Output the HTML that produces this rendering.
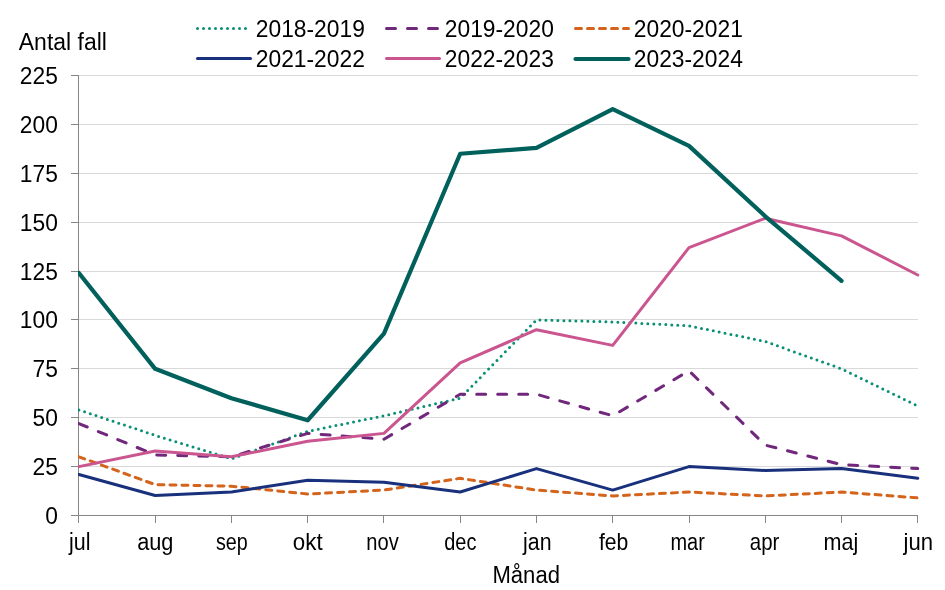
<!DOCTYPE html>
<html><head><meta charset="utf-8"><title>Chart</title>
<style>html,body{margin:0;padding:0;background:#fff;}svg{display:block;will-change:transform;}text{font-family:"Liberation Sans",sans-serif;font-size:23px;fill:#000;}</style></head><body>
<svg width="945" height="590" viewBox="0 0 945 590">
<rect width="945" height="590" fill="#fff"/>
<line x1="79" y1="466.5" x2="918" y2="466.5" stroke="#d9d9d9" stroke-width="1"/>
<line x1="79" y1="417.5" x2="918" y2="417.5" stroke="#d9d9d9" stroke-width="1"/>
<line x1="79" y1="368.5" x2="918" y2="368.5" stroke="#d9d9d9" stroke-width="1"/>
<line x1="79" y1="319.5" x2="918" y2="319.5" stroke="#d9d9d9" stroke-width="1"/>
<line x1="79" y1="271.5" x2="918" y2="271.5" stroke="#d9d9d9" stroke-width="1"/>
<line x1="79" y1="222.5" x2="918" y2="222.5" stroke="#d9d9d9" stroke-width="1"/>
<line x1="79" y1="173.5" x2="918" y2="173.5" stroke="#d9d9d9" stroke-width="1"/>
<line x1="79" y1="124.5" x2="918" y2="124.5" stroke="#d9d9d9" stroke-width="1"/>
<line x1="79" y1="75.5" x2="918" y2="75.5" stroke="#d9d9d9" stroke-width="1"/>
<line x1="78.5" y1="75" x2="78.5" y2="516" stroke="#868686" stroke-width="1"/>
<line x1="71" y1="515.5" x2="918" y2="515.5" stroke="#868686" stroke-width="1"/>
<line x1="71" y1="515.5" x2="79" y2="515.5" stroke="#868686" stroke-width="1"/>
<text transform="translate(57.90,523.80) scale(0.9920,1)" text-anchor="end">0</text>
<line x1="71" y1="466.5" x2="79" y2="466.5" stroke="#868686" stroke-width="1"/>
<text transform="translate(57.90,474.80) scale(0.9920,1)" text-anchor="end">25</text>
<line x1="71" y1="417.5" x2="79" y2="417.5" stroke="#868686" stroke-width="1"/>
<text transform="translate(57.90,425.80) scale(0.9920,1)" text-anchor="end">50</text>
<line x1="71" y1="368.5" x2="79" y2="368.5" stroke="#868686" stroke-width="1"/>
<text transform="translate(57.90,376.80) scale(0.9920,1)" text-anchor="end">75</text>
<line x1="71" y1="319.5" x2="79" y2="319.5" stroke="#868686" stroke-width="1"/>
<text transform="translate(57.90,327.80) scale(0.9920,1)" text-anchor="end">100</text>
<line x1="71" y1="271.5" x2="79" y2="271.5" stroke="#868686" stroke-width="1"/>
<text transform="translate(57.90,279.80) scale(0.9920,1)" text-anchor="end">125</text>
<line x1="71" y1="222.5" x2="79" y2="222.5" stroke="#868686" stroke-width="1"/>
<text transform="translate(57.90,230.80) scale(0.9920,1)" text-anchor="end">150</text>
<line x1="71" y1="173.5" x2="79" y2="173.5" stroke="#868686" stroke-width="1"/>
<text transform="translate(57.90,181.80) scale(0.9920,1)" text-anchor="end">175</text>
<line x1="71" y1="124.5" x2="79" y2="124.5" stroke="#868686" stroke-width="1"/>
<text transform="translate(57.90,132.80) scale(0.9920,1)" text-anchor="end">200</text>
<line x1="71" y1="75.5" x2="79" y2="75.5" stroke="#868686" stroke-width="1"/>
<text transform="translate(57.90,83.80) scale(0.9920,1)" text-anchor="end">225</text>
<line x1="78.5" y1="515" x2="78.5" y2="523" stroke="#868686" stroke-width="1"/>
<text transform="translate(79.80,549.60) scale(0.9334,1)" text-anchor="middle">jul</text>
<line x1="155.5" y1="515" x2="155.5" y2="523" stroke="#868686" stroke-width="1"/>
<text transform="translate(155.30,549.60) scale(0.9449,1)" text-anchor="middle">aug</text>
<line x1="231.5" y1="515" x2="231.5" y2="523" stroke="#868686" stroke-width="1"/>
<text transform="translate(231.90,549.60) scale(0.8572,1)" text-anchor="middle">sep</text>
<line x1="307.5" y1="515" x2="307.5" y2="523" stroke="#868686" stroke-width="1"/>
<text transform="translate(307.70,549.60) scale(0.9710,1)" text-anchor="middle">okt</text>
<line x1="383.5" y1="515" x2="383.5" y2="523" stroke="#868686" stroke-width="1"/>
<text transform="translate(382.50,549.60) scale(0.8736,1)" text-anchor="middle">nov</text>
<line x1="460.5" y1="515" x2="460.5" y2="523" stroke="#868686" stroke-width="1"/>
<text transform="translate(460.30,549.60) scale(0.8678,1)" text-anchor="middle">dec</text>
<line x1="536.5" y1="515" x2="536.5" y2="523" stroke="#868686" stroke-width="1"/>
<text transform="translate(537.30,549.60) scale(0.9276,1)" text-anchor="middle">jan</text>
<line x1="612.5" y1="515" x2="612.5" y2="523" stroke="#868686" stroke-width="1"/>
<text transform="translate(613.60,549.60) scale(0.9189,1)" text-anchor="middle">feb</text>
<line x1="689.5" y1="515" x2="689.5" y2="523" stroke="#868686" stroke-width="1"/>
<text transform="translate(687.60,549.60) scale(0.8678,1)" text-anchor="middle">mar</text>
<line x1="765.5" y1="515" x2="765.5" y2="523" stroke="#868686" stroke-width="1"/>
<text transform="translate(764.60,549.60) scale(0.8890,1)" text-anchor="middle">apr</text>
<line x1="841.5" y1="515" x2="841.5" y2="523" stroke="#868686" stroke-width="1"/>
<text transform="translate(841.00,549.60) scale(0.9382,1)" text-anchor="middle">maj</text>
<line x1="917.5" y1="515" x2="917.5" y2="523" stroke="#868686" stroke-width="1"/>
<text transform="translate(918.30,549.60) scale(0.9613,1)" text-anchor="middle">jun</text>
<defs><clipPath id="pc"><rect x="78" y="0" width="867" height="590"/></clipPath></defs><g clip-path="url(#pc)">
<polyline points="78.90,409.90 155.16,435.32 231.42,458.79 307.68,431.41 383.94,415.77 460.20,398.17 536.46,319.94 612.72,321.90 688.98,325.81 765.24,341.46 841.50,368.83 917.76,405.99" fill="none" stroke="#098f73" stroke-width="3" stroke-dasharray="0 6" stroke-linejoin="round" stroke-linecap="round"/>
<polyline points="78.90,423.59 155.16,454.88 231.42,456.83 307.68,433.37 383.94,439.23 460.20,394.26 536.46,394.26 612.72,415.77 688.98,370.79 765.24,445.10 841.50,464.66 917.76,468.57" fill="none" stroke="#70277c" stroke-width="3" stroke-dasharray="9 12" stroke-linejoin="round" stroke-linecap="round"/>
<polyline points="78.90,456.83 155.16,484.60 231.42,486.17 307.68,493.99 383.94,490.08 460.20,478.34 536.46,490.08 612.72,495.94 688.98,492.03 765.24,495.94 841.50,492.03 917.76,497.90" fill="none" stroke="#d4631c" stroke-width="3" stroke-dasharray="6 6" stroke-linejoin="round" stroke-linecap="round"/>
<polyline points="78.90,474.43 155.16,495.55 231.42,492.03 307.68,480.30 383.94,482.26 460.20,492.03 536.46,468.57 612.72,490.08 688.98,466.61 765.24,470.52 841.50,468.57 917.76,478.34" fill="none" stroke="#19317c" stroke-width="3" stroke-linejoin="round" stroke-linecap="round"/>
<polyline points="78.90,466.61 155.16,450.97 231.42,456.83 307.68,441.19 383.94,433.37 460.20,362.97 536.46,329.72 612.72,345.37 688.98,247.59 765.24,218.26 841.50,235.86 917.76,274.97" fill="none" stroke="#ca558f" stroke-width="3" stroke-linejoin="round" stroke-linecap="round"/>
<polyline points="78.90,273.01 155.16,368.83 231.42,398.17 307.68,420.26 383.94,333.63 460.20,153.72 536.46,147.86 612.72,109.14 688.98,145.90 765.24,216.30 841.50,280.83" fill="none" stroke="#00605c" stroke-width="4.2" stroke-linejoin="round" stroke-linecap="round"/>
</g>
<text transform="translate(526.20,583.00) scale(0.9603,1)" text-anchor="middle">Månad</text>
<text transform="translate(18.80,50.00) scale(0.9990,1)" text-anchor="start">Antal fall</text>
<line x1="197.5" y1="28.5" x2="250.5" y2="28.5" stroke="#098f73" stroke-width="3" stroke-dasharray="0 6" stroke-linecap="round"/>
<text transform="translate(255.80,36.80) scale(0.9920,1)" text-anchor="start">2018-2019</text>
<line x1="386.5" y1="28.5" x2="439.5" y2="28.5" stroke="#70277c" stroke-width="3" stroke-dasharray="9 12" stroke-linecap="round"/>
<text transform="translate(444.80,36.80) scale(0.9920,1)" text-anchor="start">2019-2020</text>
<line x1="575.5" y1="28.5" x2="628.5" y2="28.5" stroke="#d4631c" stroke-width="3" stroke-dasharray="6 6" stroke-linecap="round"/>
<text transform="translate(633.80,36.80) scale(0.9920,1)" text-anchor="start">2020-2021</text>
<line x1="197.5" y1="58.5" x2="250.5" y2="58.5" stroke="#19317c" stroke-width="3" stroke-linecap="round"/>
<text transform="translate(255.80,66.70) scale(0.9920,1)" text-anchor="start">2021-2022</text>
<line x1="386.5" y1="58.5" x2="439.5" y2="58.5" stroke="#ca558f" stroke-width="3" stroke-linecap="round"/>
<text transform="translate(444.80,66.70) scale(0.9920,1)" text-anchor="start">2022-2023</text>
<line x1="575.5" y1="59.0" x2="628.5" y2="59.0" stroke="#00605c" stroke-width="4.2" stroke-linecap="round"/>
<text transform="translate(633.80,66.70) scale(0.9920,1)" text-anchor="start">2023-2024</text>
</svg></body></html>
